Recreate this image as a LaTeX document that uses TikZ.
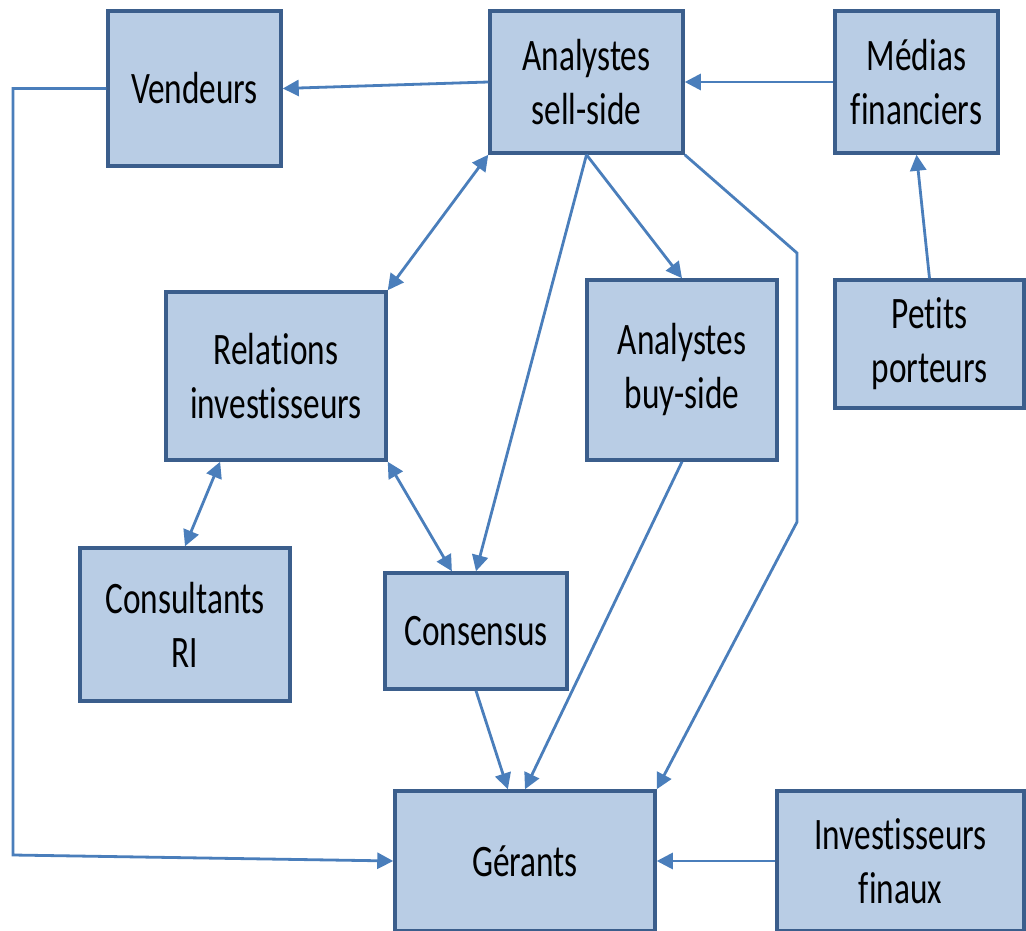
\documentclass[tikz,border=0pt]{standalone}
\usepackage{fontspec}
\setmainfont{Carlito}[FakeStretch=0.74,Ligatures={NoCommon}]
\usetikzlibrary{arrows.meta,calc}
\definecolor{fillc}{HTML}{B9CDE5}
\definecolor{bordc}{HTML}{3B5E8C}
\definecolor{arrc}{HTML}{4A7EBB}
\tikzset{
  box/.style={draw=bordc, fill=fillc, line width=3.5pt, align=center, inner sep=0pt,
    font=\fontsize{45}{54}\selectfont},
  arr/.style={draw=arrc, line width=2.8pt, -{Triangle[length=16pt,width=16pt]}},
  darr/.style={draw=arrc, line width=2.8pt, {Triangle[length=16pt,width=16pt]}-{Triangle[length=16pt,width=16pt]}},
  pln/.style={draw=arrc, line width=2.8pt}
}
\begin{document}
\begin{tikzpicture}[x=1pt,y=-1pt]
\useasboundingbox (0,0) rectangle (1026,931);
\node[box, minimum width=173pt, minimum height=155pt] (vend) at (194.5,88.5) {Vendeurs};
\node[box, minimum width=193pt, minimum height=142pt] (ss) at (586.5,82) {Analystes\\sell-side};
\node[box, minimum width=163pt, minimum height=142pt] (med) at (916.5,82) {Médias\\financiers};
\node[box, minimum width=220pt, minimum height=168pt] (ri) at (276,376) {Relations\\investisseurs};
\node[box, minimum width=190pt, minimum height=180pt] (bs) at (682,370) {Analystes\\buy-side};
\node[box, minimum width=189pt, minimum height=128pt] (pp) at (929.5,344) {Petits\\porteurs};
\node[box, minimum width=210pt, minimum height=153pt] (cri) at (185,624.5) {Consultants\\RI};
\node[box, minimum width=182pt, minimum height=116pt] (cons) at (476,631) {Consensus};
\node[box, minimum width=260pt, minimum height=140pt] (ger) at (525,861) {Gérants};
\node[box, minimum width=247pt, minimum height=140pt] (inv) at (900.5,861) {Investisseurs\\finaux};

\coordinate (c1) at (797,253);
\coordinate (c2) at (797,522);
\coordinate (v1) at (13,88.5);
\coordinate (v2) at (13,855);

\draw[arr] (ss.west) -- (vend.east);
\draw[arr] (med.west) -- (ss.east);
\draw[arr] (pp.north) -- (med.south);
\draw[darr] (ss.south west) -- (ri.north east);
\draw[arr] (ss.south) -- (cons.north);
\draw[arr] (ss.south) -- (bs.north);
\draw[arr] (ss.south east) -- (c1) -- (c2) -- (ger.north east);
\draw[darr] ($(ri.south west)!0.25!(ri.south east)$) -- (cri.north);
\draw[darr] (ri.south east) -- ($(cons.north west)!0.37!(cons.north east)$);
\draw[arr] (cons.south) -- ($(ger.north west)!0.435!(ger.north east)$);
\draw[arr] (bs.south) -- (ger.north);
\draw[arr] (vend.west) -- (v1) -- (v2) -- (ger.west);
\draw[arr] (inv.west) -- (ger.east);
\end{tikzpicture}
\end{document}
